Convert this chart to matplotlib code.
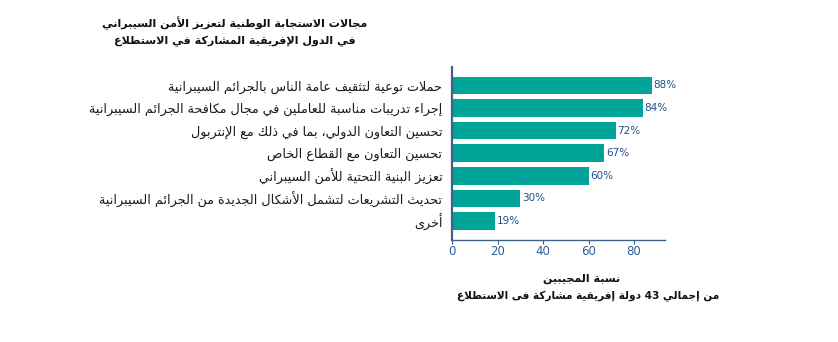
import matplotlib.pyplot as plt

# بيانات الرسم
labels = [
    "حملات توعية لتثقيف عامة الناس بالجرائم السيبرانية",
    "إجراء تدريبات مناسبة للعاملين في مجال مكافحة الجرائم السيبرانية",
    "تحسين التعاون الدولي، بما في ذلك مع الإنتربول",
    "تحسين التعاون مع القطاع الخاص",
    "تعزيز البنية التحتية للأمن السيبراني",
    "تحديث التشريعات لتشمل الأشكال الجديدة من الجرائم السيبرانية",
    "أخرى",
]
values = [88, 84, 72, 67, 60, 30, 19]
x_ticks = [0, 20, 40, 60, 80]

title_lines = [
    "مجالات الاستجابة الوطنية لتعزيز الأمن السيبراني",
    "في الدول الإفريقية المشاركة في الاستطلاع",
]
xlabel_lines = [
    "نسبة المجيبين",
    "من إجمالي 43 دولة إفريقية مشاركة فى الاستطلاع",
]

# matplotlib لا يشكّل الحروف العربية، لذلك نحولها يدويا لأشكال العرض
FOUR = {
    'ئ': 0xFE89, 'ب': 0xFE8F, 'ت': 0xFE95, 'ث': 0xFE99, 'ج': 0xFE9D,
    'ح': 0xFEA1, 'خ': 0xFEA5, 'س': 0xFEB1, 'ش': 0xFEB5, 'ص': 0xFEB9,
    'ض': 0xFEBD, 'ط': 0xFEC1, 'ظ': 0xFEC5, 'ع': 0xFEC9, 'غ': 0xFECD,
    'ف': 0xFED1, 'ق': 0xFED5, 'ك': 0xFED9, 'ل': 0xFEDD, 'م': 0xFEE1,
    'ن': 0xFEE5, 'ه': 0xFEE9, 'ي': 0xFEF1,
}
TWO = {
    'آ': 0xFE81, 'أ': 0xFE83, 'ؤ': 0xFE85, 'إ': 0xFE87, 'ا': 0xFE8D,
    'ة': 0xFE93, 'د': 0xFEA9, 'ذ': 0xFEAB, 'ر': 0xFEAD, 'ز': 0xFEAF,
    'و': 0xFEED, 'ى': 0xFEEF,
}
LAM_ALEF = {'آ': 0xFEF5, 'أ': 0xFEF7, 'إ': 0xFEF9, 'ا': 0xFEFB}


def joins_next(c):
    return c in FOUR


def is_letter(c):
    return c in FOUR or c in TWO or c == 'LA' or c == 'ء'


def shape(text):
    # دمج لام-ألف أولا
    toks = []
    i = 0
    while i < len(text):
        c = text[i]
        if c == 'ل' and i + 1 < len(text) and text[i + 1] in LAM_ALEF:
            toks.append(('LA', text[i + 1]))
            i += 2
        else:
            toks.append((c, None))
            i += 1

    out = []
    for k, (c, extra) in enumerate(toks):
        prev = toks[k - 1][0] if k > 0 else ''
        nxt = toks[k + 1][0] if k + 1 < len(toks) else ''
        p = joins_next(prev)
        n = is_letter(nxt) and nxt != 'ء'
        if c == 'LA':
            base = LAM_ALEF[extra]
            out.append(chr(base + (1 if p else 0)))
        elif c in FOUR:
            b = FOUR[c]
            if p and n:
                out.append(chr(b + 3))
            elif p:
                out.append(chr(b + 1))
            elif n:
                out.append(chr(b + 2))
            else:
                out.append(chr(b))
        elif c in TWO:
            out.append(chr(TWO[c] + (1 if p else 0)))
        else:
            out.append(c)

    # ترتيب بصري من اليمين لليسار مع إبقاء الأرقام كما هي
    runs = []
    for ch in out:
        if ch.isdigit() and runs and runs[-1][0].isdigit():
            runs[-1] += ch
        else:
            runs.append(ch)
    return ''.join(reversed(runs))


plt.rcParams['font.family'] = ['DejaVu Sans']

fig = plt.figure(figsize=(8.38, 3.42), dpi=100)
ax = fig.add_axes([0.5394, 0.298, 0.2542, 0.506])

bar_color = '#00a499'
spine_color = '#3f6289'
tick_color = '#2d5e9a'
value_color = '#1f4f8c'

ypos = list(range(len(values)))
ax.barh(ypos, values, height=0.78, color=bar_color)

for y, v in zip(ypos, values):
    ax.text(v + 0.6, y, f"{v}%", va='center', ha='left',
            fontsize=7.5, color=value_color)

ax.set_yticks(ypos)
ax.set_yticklabels([shape(l) for l in labels], fontsize=9.2, color='#1a1a1a')
ax.set_xticks(x_ticks)
ax.set_xticklabels([str(t) for t in x_ticks], fontsize=8.5, color=tick_color)
ax.set_xlim(0, 93.6)
ax.set_ylim(6.84, -0.81)

ax.tick_params(axis='y', length=0, pad=7)
ax.tick_params(axis='x', length=3, width=0.8, color=spine_color, pad=0.5)

for s in ['top', 'right']:
    ax.spines[s].set_visible(False)
ax.spines['left'].set_color(spine_color)
ax.spines['left'].set_linewidth(1.6)
ax.spines['bottom'].set_color(spine_color)
ax.spines['bottom'].set_linewidth(1.0)

fig.text(235 / 838, 1 - 23 / 342, shape(title_lines[0]), ha='center', va='center',
         fontsize=8, fontweight='bold', color='#111111')
fig.text(235 / 838, 1 - 41 / 342, shape(title_lines[1]), ha='center', va='center',
         fontsize=8, fontweight='bold', color='#111111')

fig.text(582 / 838, 1 - 279 / 342, shape(xlabel_lines[0]), ha='center', va='center',
         fontsize=8, fontweight='bold', color='#111111')
fig.text(588 / 838, 1 - 296 / 342, shape(xlabel_lines[1]), ha='center', va='center',
         fontsize=7.6, fontweight='bold', color='#111111')

fig.savefig('out.png', dpi=100)
